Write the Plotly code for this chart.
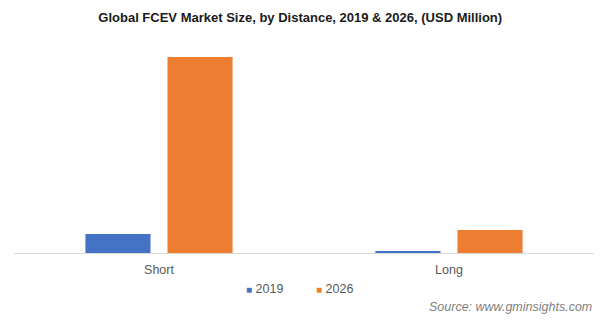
import plotly.graph_objects as go

categories = ["Short", "Long"]
series_names = ["2019", "2026"]
values_2019 = [95, 10]
values_2026 = [980, 115]
colors = ["#4472C4", "#ED7D31"]

fig = go.Figure()
for name, vals, col in zip(series_names, [values_2019, values_2026], colors):
    fig.add_trace(go.Bar(x=categories, y=vals, name=name, marker_color=col,
                         marker_line_width=0, showlegend=False))

fig.update_layout(
    width=609, height=324,
    margin=dict(l=14, r=15, t=40, b=71),
    paper_bgcolor="white", plot_bgcolor="white",
    barmode="group", bargap=0.434, bargroupgap=0.207,
    font=dict(family="Arial, Liberation Sans", color="#595959", size=12),
    title=dict(text="<b>Global FCEV Market Size, by Distance, 2019 & 2026, (USD Million)</b>",
               x=0.493, xanchor="center", y=0.945, yanchor="middle",
               font=dict(size=13, color="#1a1a1a")),
    xaxis=dict(showline=True, linecolor="#d9d9d9", linewidth=1, ticks="outside",
               ticklen=5, tickcolor="rgba(0,0,0,0)",
               showgrid=False, tickfont=dict(size=12.5, color="#595959")),
    yaxis=dict(range=[0, 1065], visible=False, showgrid=False, zeroline=False),
)
# legend drawn as text
legend_x = [0.432, 0.552]
for name, col, lx in zip(series_names, colors, legend_x):
    fig.add_annotation(text=f"<span style='color:{col}; font-size:10px'>■</span> {name}",
                       xref="paper", yref="paper", x=lx, xanchor="center",
                       y=-0.17, yanchor="middle", showarrow=False,
                       font=dict(size=12.5, color="#595959"))
fig.add_annotation(text="<i>Source: www.gminsights.com</i>", xref="paper", yref="paper",
                   x=1.0, xanchor="right", y=-0.255, yanchor="middle", showarrow=False,
                   font=dict(size=12.5, color="#7f7f7f"))
fig.write_html("out.html")
